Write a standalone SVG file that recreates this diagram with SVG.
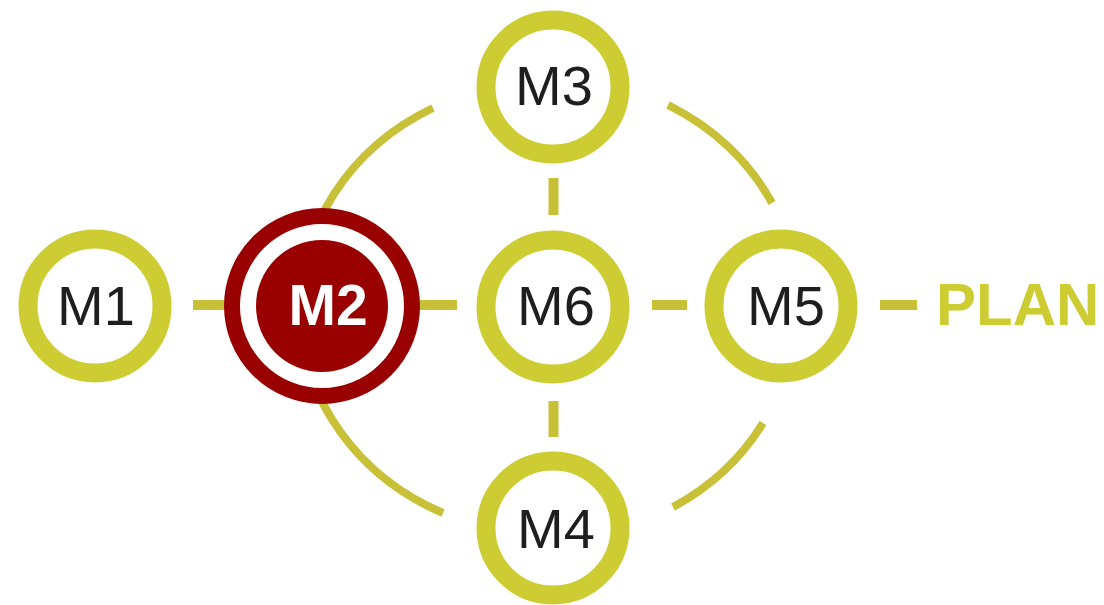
<svg xmlns="http://www.w3.org/2000/svg" width="1104" height="605" viewBox="0 0 1104 605">
<style>
.ring{fill:#ffffff;stroke:#cdcd33;stroke-width:19}
.lbl{font-family:"Liberation Sans",Arial,sans-serif;font-size:56px;fill:#1e1e1e;text-anchor:middle}
.lblw{font-family:"Liberation Sans",Arial,sans-serif;font-size:57px;font-weight:bold;fill:#ffffff;text-anchor:middle}
.conn{fill:none;stroke:#c8c036;stroke-width:8}
.dash{fill:none;stroke:#c8c036;stroke-width:10}
</style>
<rect width="1104" height="605" fill="#ffffff"/>
<g id="connectors">
<path class="conn" d="M433,108 A248,226 0 0 0 443,513"/>
<path class="conn" d="M668,105 A248,226 0 0 1 772,203"/>
<path class="conn" d="M763,423 A248,226 0 0 1 673,507"/>
<line class="dash" x1="193" y1="305" x2="226" y2="305"/>
<line class="dash" x1="418" y1="305" x2="457" y2="305"/>
<line class="dash" x1="652" y1="305" x2="687" y2="305"/>
<line class="dash" x1="880" y1="305" x2="917" y2="305"/>
<line class="dash" x1="553.5" y1="178" x2="553.5" y2="215"/>
<line class="dash" x1="553.5" y1="401" x2="553.5" y2="437"/>
</g>
<g id="M1">
<circle class="ring" cx="95" cy="306" r="67"/>
<text class="lbl" x="96" y="325">M1</text>
</g>
<g id="M2">
<circle cx="322" cy="306" r="90" fill="#ffffff" stroke="#990000" stroke-width="16"/>
<circle cx="322" cy="306" r="66" fill="#990000"/>
<text class="lblw" x="328" y="325">M2</text>
</g>
<g id="M3">
<circle class="ring" cx="553" cy="87" r="67"/>
<text class="lbl" x="554" y="105">M3</text>
</g>
<g id="M6">
<circle class="ring" cx="553" cy="307" r="67"/>
<text class="lbl" x="556" y="325">M6</text>
</g>
<g id="M5">
<circle class="ring" cx="781" cy="306" r="67"/>
<text class="lbl" x="786" y="325">M5</text>
</g>
<g id="M4">
<circle class="ring" cx="553" cy="528" r="67"/>
<text class="lbl" x="556" y="548">M4</text>
</g>
<g id="PLAN">
<text x="936" y="325" font-family="'Liberation Sans',Arial,sans-serif" font-size="60" font-weight="bold" fill="#cdcd33">PLAN</text>
</g>
</svg>
